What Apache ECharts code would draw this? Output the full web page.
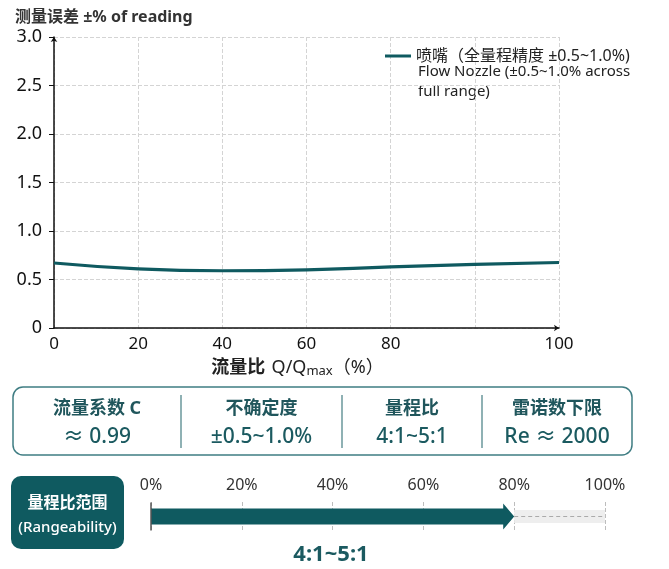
<!DOCTYPE html>
<html>
  <head>
    <meta charset="UTF-8" />
    <script src="https://cdn.jsdelivr.net/npm/echarts@6/dist/echarts.min.js"></script>
    <style>
      html, body {
        margin: 0;
        padding: 0;
        width: 100%;
        height: 100%;
        background-color: #fff;
      }
      #main {
        width: 669px;
        height: 569px;
      }
    </style>
  </head>
  <body>
    <div id="main"></div>
    <script>
      // flow ratio ticks (last-but-one gridline carries no label in the source)
      const xLabels = ['0', '20', '40', '60', '80', '', '100'];
      const nozzleError = [0.67, 0.61, 0.59, 0.60, 0.63, 0.655, 0.675];
      const seriesName = '喷嘴（全量程精度 ±0.5~1.0%)';
      const seriesNote = 'Flow Nozzle (±0.5~1.0% across\nfull range)';

      const infoTitles = ['流量系数 C', '不确定度', '量程比', '雷诺数下限'];
      const infoValues = ['≈ 0.99', '±0.5~1.0%', '4:1~5:1', 'Re ≈ 2000'];

      const rangeStart = [0, 80];
      const rangeEnd = [80, 100];
      const rangeText = '4:1~5:1';

      const font = '"Noto Sans", "Noto Sans CJK SC", sans-serif';
      const teal = '#0f5a60';

      const infoLeft = 13, infoTop = 387, infoW = 619, infoH = 68;
      const dividers = [181, 342, 482];
      const colEdges = [infoLeft].concat(dividers, [infoLeft + infoW]);

      const graphic = [
        {
          type: 'rect',
          shape: { x: infoLeft, y: infoTop, width: infoW, height: infoH, r: 10 },
          style: { fill: '#fff', stroke: '#3f7d83', lineWidth: 1.5 }
        }
      ];
      dividers.forEach(x => {
        graphic.push({
          type: 'line',
          shape: { x1: x, y1: 395, x2: x, y2: 448 },
          style: { stroke: '#6a979b', lineWidth: 1.5 }
        });
      });
      infoTitles.forEach((t, i) => {
        const cx = (colEdges[i] + colEdges[i + 1]) / 2;
        graphic.push({
          type: 'text',
          x: cx, y: 409,
          style: { text: t, fontFamily: font, fontSize: 18, fontWeight: 'bold', fill: '#20565c', align: 'center', verticalAlign: 'middle' }
        });
        graphic.push({
          type: 'text',
          x: cx, y: 437,
          style: { text: infoValues[i], fontFamily: font, fontSize: 21, fontWeight: 500, fill: '#1b5a60', align: 'center', verticalAlign: 'middle' }
        });
      });
      graphic.push(
        {
          type: 'rect',
          shape: { x: 11, y: 476, width: 113, height: 73, r: 10 },
          style: { fill: teal }
        },
        {
          type: 'text',
          x: 67.5, y: 503,
          style: { text: '量程比范围', fontFamily: font, fontSize: 16, fontWeight: 'bold', fill: '#fff', align: 'center', verticalAlign: 'middle' }
        },
        {
          type: 'text',
          x: 67.5, y: 528,
          style: { text: '(Rangeability)', fontFamily: font, fontSize: 15, fontWeight: 500, fill: '#fff', align: 'center', verticalAlign: 'middle' }
        },
        {
          type: 'text',
          x: 331, y: 555,
          style: { text: rangeText, fontFamily: font, fontSize: 22, fontWeight: 'bold', fill: '#1b5a60', align: 'center', verticalAlign: 'middle' }
        },
        {
          type: 'text',
          x: 418, y: 62,
          style: { text: seriesNote, fontFamily: font, fontSize: 15, fill: '#222', lineHeight: 20, verticalAlign: 'top' }
        }
      );

      const chart = echarts.init(document.getElementById('main'));
      const option = {
        animation: false,
        textStyle: { fontFamily: font },
        title: {
          text: '测量误差 ±% of reading',
          left: 10, top: 4,
          textStyle: { fontFamily: font, fontSize: 16, fontWeight: 'bold', color: '#333' }
        },
        legend: {
          left: 380, top: 43,
          icon: 'rect',
          itemWidth: 26, itemHeight: 3,
          itemGap: 8,
          data: [seriesName],
          textStyle: { fontFamily: font, fontSize: 16, color: '#222' }
        },
        grid: [
          { left: 54, right: 110, top: 37, bottom: 241 },
          { left: 151, right: 64, top: 502, height: 29 }
        ],
        xAxis: [
          {
            type: 'category',
            data: xLabels,
            boundaryGap: false,
            name: '{b|流量比}  {n|Q/Q}{s|max}{n|（%）}',
            nameLocation: 'middle',
            nameGap: 30,
            nameTextStyle: {
              padding: [0, 18, 0, 0],
              rich: {
                b: { fontFamily: font, fontSize: 18, fontWeight: 'bold', color: '#222' },
                n: { fontFamily: font, fontSize: 18, color: '#222' },
                s: { fontFamily: font, fontSize: 13, color: '#222', padding: [7, 0, 0, 0] }
              }
            },
            axisLine: { lineStyle: { color: '#111', width: 1.5 }, symbol: ['none', 'arrow'], symbolSize: [5, 5] },
            axisTick: { show: false },
            axisLabel: { fontSize: 17, color: '#111', margin: 8, interval: 0 },
            splitLine: { show: true, lineStyle: { color: '#d4d4d4', type: 'dashed' } }
          },
          {
            gridIndex: 1,
            type: 'value',
            min: 0, max: 100, interval: 20,
            position: 'top',
            axisLine: { show: false },
            axisTick: { show: false },
            axisLabel: { formatter: '{value}%', fontSize: 16, color: '#333', margin: 9 },
            splitLine: { show: true, lineStyle: { color: '#bdbdbd', type: 'dashed' } }
          }
        ],
        yAxis: [
          {
            type: 'value',
            min: 0, max: 3, interval: 0.5,
            axisLine: { show: true, lineStyle: { color: '#111', width: 1.5 }, symbol: ['none', 'arrow'], symbolSize: [5, 5] },
            axisTick: { show: true, length: 5, lineStyle: { color: '#111' } },
            axisLabel: {
              fontSize: 18, color: '#111', margin: 12,
              formatter: v => (v === 0 ? '0' : v.toFixed(1))
            },
            splitLine: { show: true, lineStyle: { color: '#d4d4d4', type: 'dashed' } }
          },
          { gridIndex: 1, type: 'value', min: 0, max: 1, show: false }
        ],
        series: [
          {
            name: seriesName,
            type: 'line',
            data: nozzleError,
            smooth: true,
            symbol: 'none',
            lineStyle: { width: 3.2, color: teal },
            itemStyle: { color: teal }
          },
          {
            type: 'custom',
            xAxisIndex: 1,
            yAxisIndex: 1,
            data: rangeStart.map((s, i) => [s, rangeEnd[i]]),
            renderItem: (params, api) => {
              const p0 = api.coord([api.value(0), 0.5]);
              const p1 = api.coord([api.value(1), 0.5]);
              const cy = p0[1];
              if (params.dataIndex === 0) {
                const hx = p1[0] - 11;
                return {
                  type: 'group',
                  children: [
                    {
                      type: 'polygon',
                      shape: {
                        points: [
                          [p0[0], cy - 8], [hx, cy - 8], [hx, cy - 13], [p1[0], cy],
                          [hx, cy + 13], [hx, cy + 8], [p0[0], cy + 8]
                        ]
                      },
                      style: { fill: teal }
                    },
                    {
                      type: 'line',
                      shape: { x1: p0[0], y1: cy - 14, x2: p0[0], y2: cy + 14 },
                      style: { stroke: '#555', lineWidth: 1.5 }
                    }
                  ]
                };
              }
              return {
                type: 'group',
                children: [
                  {
                    type: 'rect',
                    shape: { x: p0[0], y: cy - 6.5, width: p1[0] - p0[0], height: 13 },
                    style: { fill: '#eeeeee' }
                  },
                  {
                    type: 'line',
                    shape: { x1: p0[0], y1: cy, x2: p1[0], y2: cy },
                    style: { stroke: '#aaa', lineWidth: 1, lineDash: [4, 3] }
                  }
                ]
              };
            }
          }
        ],
        graphic: graphic
      };
      chart.setOption(option);
    </script>
  </body>
</html>
